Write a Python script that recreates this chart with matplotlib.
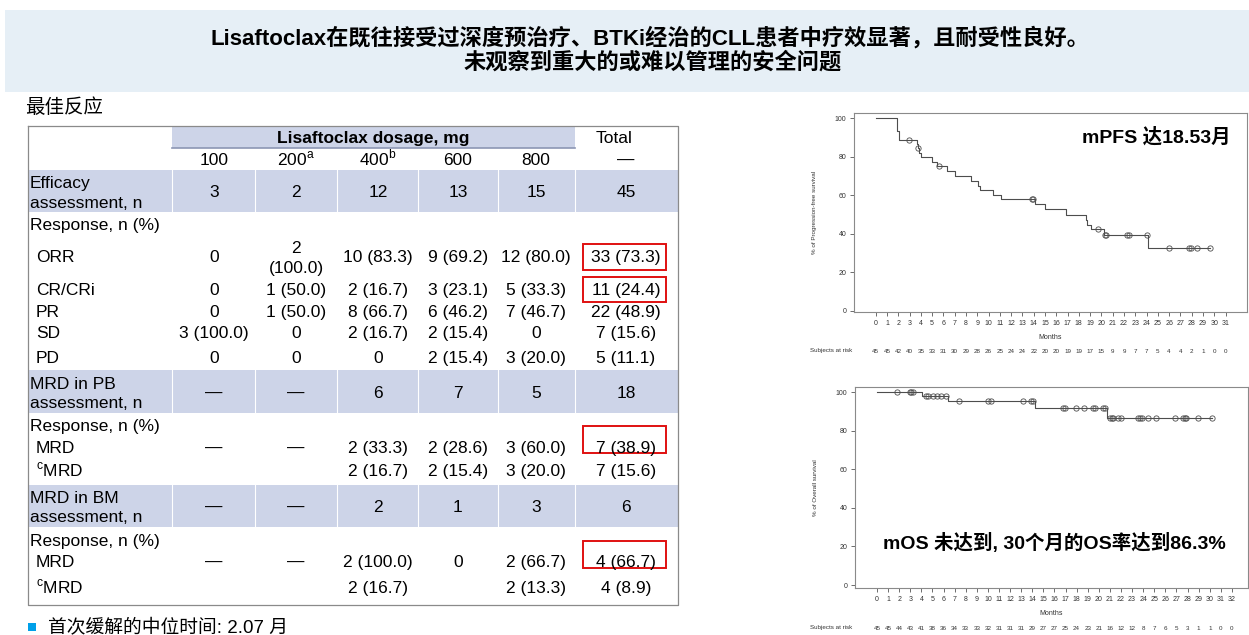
import matplotlib.pyplot as plt
import matplotlib.patches as mpatches
from matplotlib.transforms import blended_transform_factory
import numpy as np

plt.rcParams['font.family'] = ['Liberation Sans', 'Noto Sans CJK SC', 'DejaVu Sans']
plt.rcParams['mathtext.fontset'] = 'custom'
plt.rcParams['mathtext.rm'] = 'Liberation Sans'

W, H = 1249, 635

# ---------------- data ----------------
title_lines = ["Lisaftoclax在既往接受过深度预治疗、BTKi经治的CLL患者中疗效显著，且耐受性良好。",
               "未观察到重大的或难以管理的安全问题"]
section_title = "最佳反应"
footnote = "首次缓解的中位时间: 2.07 月"

dose_labels = ["100", r"200$^{\mathrm{a}}$", r"400$^{\mathrm{b}}$", "600", "800", "—"]
row_labels = ["Efficacy\nassessment, n", "Response, n (%)", "ORR", "CR/CRi", "PR", "SD", "PD",
              "MRD in PB\nassessment, n", "Response, n (%)", "MRD", r"$^{\mathrm{c}}$MRD",
              "MRD in BM\nassessment, n", "Response, n (%)", "MRD", r"$^{\mathrm{c}}$MRD"]
efficacy_n = ["3", "2", "12", "13", "15", "45"]
orr = ["0", "2\n(100.0)", "10 (83.3)", "9 (69.2)", "12 (80.0)", "33 (73.3)"]
cr_cri = ["0", "1 (50.0)", "2 (16.7)", "3 (23.1)", "5 (33.3)", "11 (24.4)"]
pr = ["0", "1 (50.0)", "8 (66.7)", "6 (46.2)", "7 (46.7)", "22 (48.9)"]
sd = ["3 (100.0)", "0", "2 (16.7)", "2 (15.4)", "0", "7 (15.6)"]
pd_ = ["0", "0", "0", "2 (15.4)", "3 (20.0)", "5 (11.1)"]
pb_n = ["—", "—", "6", "7", "5", "18"]
pb_mrd = ["—", "—", "2 (33.3)", "2 (28.6)", "3 (60.0)", "7 (38.9)"]
pb_cmrd = ["", "", "2 (16.7)", "2 (15.4)", "3 (20.0)", "7 (15.6)"]
bm_n = ["—", "—", "2", "1", "3", "6"]
bm_mrd = ["—", "—", "2 (100.0)", "0", "2 (66.7)", "4 (66.7)"]
bm_cmrd = ["", "", "2 (16.7)", "", "2 (13.3)", "4 (8.9)"]
row_values = [efficacy_n, None, orr, cr_cri, pr, sd, pd_,
              pb_n, None, pb_mrd, pb_cmrd, bm_n, None, bm_mrd, bm_cmrd]

# progression-free survival (step times, value after step)
pfs_times = [0, 1.86, 2.03, 3.63, 3.72, 3.84, 3.98, 4.96, 5.46, 6.29, 7.03, 8.41, 9.09, 9.2,
             10.36, 11.1, 14.11, 15.0, 16.83, 18.63, 18.75, 19.07, 20.25, 24.1]
pfs_surv = [100, 93.3, 88.9, 86.7, 84.4, 82.1, 79.8, 77.5, 75.2, 72.8, 70.2, 67.6, 65.0, 62.9,
            60.3, 57.9, 55.3, 52.7, 50.0, 47.4, 44.8, 42.3, 39.4, 32.8]
pfs_end = 29.6
pfs_censor = [2.98, 3.75, 5.64, 13.88, 13.95, 19.66, 20.3, 20.42, 22.26, 22.48, 24.0,
              26.0, 27.8, 27.9, 28.5, 29.6]
pfs_risk = [45, 45, 42, 40, 35, 33, 31, 30, 29, 28, 26, 25, 24, 24, 22, 20, 20, 19, 19, 17,
            15, 9, 9, 7, 7, 5, 4, 4, 2, 1, 0, 0]

# overall survival
os_times = [0, 4.09, 6.43, 14.27, 20.73]
os_surv = [100, 97.8, 95.2, 91.9, 86.3]
os_end = 30.2
os_censor = [1.8, 2.97, 3.1, 3.27, 4.4, 4.6, 5.08, 5.44, 5.74, 6.19, 7.42, 9.98, 10.28,
             13.13, 13.9, 14.1, 16.74, 16.95, 17.94, 18.69, 19.5, 19.65, 20.4, 20.6, 21.0,
             21.15, 21.3, 21.75, 21.96, 23.5, 23.7, 23.9, 24.46, 25.15, 26.86, 27.6, 27.75,
             27.9, 28.9, 30.2]
os_risk = [45, 45, 44, 43, 41, 38, 36, 34, 33, 33, 32, 31, 31, 31, 29, 27, 27, 25, 24, 23,
           21, 16, 12, 12, 8, 7, 6, 5, 3, 1, 1, 0, 0]

# ---------------- layout ----------------
fig = plt.figure(figsize=(W / 100, H / 100), dpi=100)
ax0 = fig.add_axes([0, 0, 1, 1])
ax0.set_xlim(0, W)
ax0.set_ylim(H, 0)
ax0.axis('off')

# title banner
ax0.add_patch(mpatches.Rectangle((5, 10), W - 5, 82, color='#E6EFF6', lw=0))
ax0.text(650, 38, title_lines[0], ha='center', va='center', fontsize=16, fontweight='bold')
ax0.text(653, 63, title_lines[1], ha='center', va='center', fontsize=16, fontweight='bold')

ax0.text(25, 108, section_title, ha='left', va='center', fontsize=14)

# table
shade = '#CDD4E8'
col_edges = [28, 172, 255, 337, 418, 498, 575, 678]
col_x = [214, 296, 378, 458, 536, 626]
row_y = [191, 224, 256, 289, 311, 332, 357, 392, 425, 447, 470, 506, 540, 561, 587]
label_x = [30, 30, 36, 36, 36, 36, 36, 30, 30, 36, 36, 30, 30, 36, 36]
bands = [(170, 212), (370, 413), (485, 527)]

ax0.add_patch(mpatches.Rectangle((172, 127), 403, 21, color=shade, lw=0))
for y0, y1 in bands:
    ax0.add_patch(mpatches.Rectangle((28, y0), 650, y1 - y0, color=shade, lw=0))
    for xe in col_edges[1:-1]:
        ax0.plot([xe, xe], [y0, y1], color='white', lw=0.8)
ax0.plot([172, 575], [148, 148], color='#8C96B4', lw=1.2)
ax0.plot([28, 678, 678, 28, 28], [126, 126, 605, 605, 126], color='#8A8A8A', lw=0.9)

fs = 12.5
LS = 21      # px between lines in two-line cells
BASE = 6     # px from visual centre down to baseline


def cell(x, y, s, ha='center', **kw):
    """place text so that its (possibly multi-line) block is centred at y"""
    n = s.count("\n") + 1
    yb = y + (n - 1) * LS / 2 + BASE   # baseline of the last line
    ax0.text(x, yb, s, ha=ha, va='baseline', fontsize=fs, linespacing=1.4, **kw)


cell(373, 137, "Lisaftoclax dosage, mg", fontweight='bold')
cell(614, 137, "Total")
for x, lab in zip(col_x, dose_labels):
    cell(x, 159, lab)

for lab, vals, y, lx in zip(row_labels, row_values, row_y, label_x):
    cell(lx, y, lab, ha='left')
    if vals is None:
        continue
    for x, v in zip(col_x, vals):
        if v:
            cell(x, y, v)

for y0, y1 in [(244, 270), (277, 302), (426, 453), (541, 568)]:
    ax0.add_patch(mpatches.Rectangle((583, y0), 83, y1 - y0, fill=False, ec='#E01010', lw=1.4))

# footnote
ax0.add_patch(mpatches.Rectangle((28, 623), 8, 8, color='#00A0E9', lw=0))
ax0.text(48, 627, footnote, ha='left', va='center', fontsize=13.5)


def km_panel(rect, times, surv, t_end, censor, risk, xlim, ylim, ylabel):
    ax = fig.add_axes(rect)
    t = list(times) + [t_end]
    s = list(surv) + [surv[-1]]
    ax.step(t, s, where='post', color='#4D4D4D', lw=0.8)
    idx = np.searchsorted(times, censor, side='right') - 1
    cs = [surv[i] for i in idx]
    ax.plot(censor, cs, 'o', mfc='none', mec='#4D4D4D', ms=3.8, mew=0.6)
    ax.set_xlim(*xlim)
    ax.set_ylim(*ylim)
    ax.set_xticks(range(len(risk)))
    ax.set_yticks([0, 20, 40, 60, 80, 100])
    ax.tick_params(labelsize=5, length=3, width=0.5, pad=2.5, colors='#333333')
    for sp in ax.spines.values():
        sp.set_color('#8A8A8A')
        sp.set_linewidth(0.8)
    ax.set_ylabel(ylabel, fontsize=4.5, color='#333333', labelpad=13)
    ax.set_xlabel("Months", fontsize=5, color='#333333', labelpad=5)
    tr = blended_transform_factory(ax.transData, ax.transAxes)
    for i, n in enumerate(risk):
        ax.text(i, -0.2, str(n), transform=tr, ha='center', va='center', fontsize=4.5,
                color='#333333', clip_on=False)
    return ax


ax1 = km_panel([854 / W, (H - 312) / H, 393 / W, 199 / H], pfs_times, pfs_surv, pfs_end,
               pfs_censor, pfs_risk, (-1.92, 32.9), (-0.7, 102.8), "% of Progression-free survival")
ax2 = km_panel([855 / W, (H - 588) / H, 393 / W, 201 / H], os_times, os_surv, os_end,
               os_censor, os_risk, (-1.98, 33.45), (-1.55, 102.6), "% of Overall survival")

fig.text(810 / W, 1 - 351 / H, "Subjects at risk", ha='left', va='center', fontsize=4.5, color='#333333')
fig.text(810 / W, 1 - 628 / H, "Subjects at risk", ha='left', va='center', fontsize=4.5, color='#333333')
fig.text(1156 / W, 1 - 137 / H, "mPFS 达18.53月", ha='center', va='center', fontsize=14, fontweight='bold')
fig.text(1054 / W, 1 - 543 / H, "mOS 未达到, 30个月的OS率达到86.3%", ha='center', va='center',
         fontsize=14, fontweight='bold')

fig.savefig("out.png", dpi=100)
